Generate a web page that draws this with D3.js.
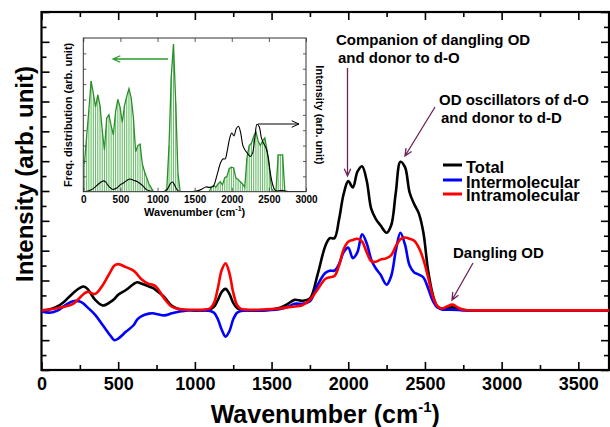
<!DOCTYPE html>
<html><head><meta charset="utf-8">
<script src="https://cdn.jsdelivr.net/npm/d3@7"></script>
<style>
body{margin:0;background:#fff}
svg{display:block}
text{font-family:"Liberation Sans",Arial,sans-serif;font-weight:bold;fill:#000}
</style>
</head><body><svg id="c" width="610" height="427"></svg>
<script>
// ---------- data ----------
const wavenumbers = [0,50,100,150,200,250,275,300,350,400,450,475,500,550,600,625,650,700,725,750,800,850,900,950,1000,1050,1100,1125,1150,1175,1200,1225,1250,1275,1300,1350,1400,1450,1500,1550,1600,1650,1700,1750,1800,1850,1880,1910,1940,1970,2000,2030,2060,2090,2120,2150,2180,2210,2250,2280,2310,2340,2370,2400,2430,2460,2490,2520,2550,2580,2610,2640,2680,2720,2760,2800,2900,3000,3200,3500,3700];
const total = [0,0.03,0.12,0.3,0.55,0.75,0.8,0.72,0.35,0.16,0.28,0.38,0.52,0.68,0.88,0.94,0.9,0.8,0.75,0.66,0.45,0.15,0.04,0.01,0,0,0.03,0.12,0.35,0.62,0.72,0.55,0.25,0.08,0.02,0,0,0,0.03,0.08,0.2,0.35,0.32,0.4,1.2,2.15,2.42,2.42,3.05,3.9,4.33,4.12,4.65,4.83,4.35,3.4,3.06,2.85,2.6,2.85,3.95,4.98,4.8,3.95,3.56,3.25,2.6,1.35,0.55,0.13,0.05,0.07,0.1,0.04,0.01,0,0,0,0,0,0];
const intermolecular = [-0.03,-0.08,-0.02,0.15,0.3,0.3,0.22,0.1,-0.15,-0.5,-0.85,-1.0,-0.95,-0.72,-0.5,-0.3,-0.2,-0.11,-0.1,-0.12,-0.17,-0.1,-0.04,0,0,0,-0.02,-0.08,-0.3,-0.65,-0.88,-0.7,-0.3,-0.08,-0.02,0,0,0,0.01,0.04,0.1,0.22,0.22,0.3,0.85,1.25,1.33,1.33,1.55,1.95,2.1,1.75,1.95,2.55,2.25,1.7,1.4,1.2,0.86,1.15,2.0,2.6,2.2,1.5,1.27,1.2,1.1,0.75,0.33,0.1,0.03,0.02,0.02,0.01,0,0,0,0,0,0,0];
const intramolecular = [0,0.03,0.07,0.12,0.2,0.42,0.55,0.62,0.55,0.85,1.3,1.5,1.55,1.45,1.33,1.2,1.05,0.88,0.86,0.78,0.4,0.12,0.04,0.02,0.02,0.02,0.07,0.25,0.75,1.35,1.58,1.25,0.6,0.18,0.05,0.02,0.02,0.03,0.04,0.06,0.1,0.13,0.17,0.35,0.7,1.05,1.11,1.15,1.5,2.05,2.3,2.36,2.4,2.3,1.95,1.65,1.63,1.7,1.75,1.85,2.15,2.38,2.44,2.4,2.33,2.1,1.7,1.12,0.5,0.15,0.06,0.12,0.19,0.08,0.01,0,0,0,0,0,0];
const seriesNames = ["Total","Intermolecular","Intramolecular"];
const seriesColors = ["#000000","#0000ff","#ff0000"];
const xTicks = [0,500,1000,1500,2000,2500,3000,3500];
const insetXTicks = [0,500,1000,1500,2000,2500,3000];
const freqBins = [15,45,75,105,135,165,195,225,255,285,315,345,375,405,435,465,495,525,555,585,615,645,675,705,735,765,795,825,855,885,915,945,975,1005,1035,1065,1095,1125,1155,1185,1215,1245,1275,1305,1335,1365,1395,1425,1455,1485,1515,1545,1575,1605,1635,1665,1695,1725,1755,1785,1815,1845,1875,1905,1935,1965,1995,2025,2055,2085,2115,2145,2175,2205,2235,2265,2295,2325,2355,2385,2415,2445,2475,2505,2535,2565,2595,2625,2655,2685,2715,2745,2775,2805,2835,2865,2895,2925,2955,2985];
const freqValues = [1.8,3.6,5.3,7.2,6.4,5.5,6.3,5.6,4.0,2.7,4.8,5.0,4.3,3.7,5.2,6.0,5.5,4.5,5.6,6.2,6.7,6.1,4.8,2.6,3.0,3.1,1.8,1.3,0.9,0.5,0.25,0,0,0,0,0,0,0.2,3.0,7.5,9.6,5.8,1.2,0,0,0,0,0,0,0,0,0,0,0,0,0,0,0.3,0.4,0.3,0.5,0.65,0.45,0.9,1.0,1.5,1.6,1.55,0.9,0.8,0.65,0.5,0.3,2.2,3.0,3.15,3.6,3.9,3.3,3.0,3.3,3.5,2.7,1.6,0.2,0,0,2.4,2.4,2.4,0,0,0,0,0,0,0,0,0,0];
const annotationTexts = [["Companion of dangling OD","and donor to d-O"],["OD oscillators of d-O","and donor to d-D"],["Dangling OD"]];

// ---------- layout ----------
const svg = d3.select("#c");
const M = {l:41.5, r:609, t:12, b:370};
const x = d3.scaleLinear().domain([0,3700]).range([M.l, M.r]);
const y = d3.scaleLinear().domain([-2,10]).range([M.b, M.t]);
const fmt = d3.format("d");

const g = svg.append("g");
function styleAxis(sel){ sel.select(".domain").remove(); sel.selectAll("line").attr("stroke","#000").attr("stroke-width",1.6); sel.selectAll("text").attr("fill","#000").style("font-size","18px").attr("font-weight","bold"); }
const minorX = d3.range(250,3700,500);
g.append("g").attr("transform",`translate(0,${M.b})`).call(d3.axisBottom(x).tickValues(xTicks).tickFormat(fmt).tickSize(-8).tickPadding(7)).call(styleAxis);
g.append("g").attr("transform",`translate(0,${M.b})`).call(d3.axisBottom(x).tickValues(minorX).tickSize(-5).tickFormat("")).call(styleAxis);
g.append("g").attr("transform",`translate(0,${M.t})`).call(d3.axisTop(x).tickValues(xTicks).tickSize(-8).tickFormat("")).call(styleAxis);
g.append("g").attr("transform",`translate(0,${M.t})`).call(d3.axisTop(x).tickValues(minorX).tickSize(-5).tickFormat("")).call(styleAxis);
const majorY = d3.range(-2,10.01,1), minorY = d3.range(-1.5,10,1);
g.append("g").attr("transform",`translate(${M.l},0)`).call(d3.axisLeft(y).tickValues(majorY).tickSize(-8).tickFormat("")).call(styleAxis);
g.append("g").attr("transform",`translate(${M.l},0)`).call(d3.axisLeft(y).tickValues(minorY).tickSize(-5).tickFormat("")).call(styleAxis);
g.append("g").attr("transform",`translate(${M.r},0)`).call(d3.axisRight(y).tickValues(majorY).tickSize(-8).tickFormat("")).call(styleAxis);
g.append("g").attr("transform",`translate(${M.r},0)`).call(d3.axisRight(y).tickValues(minorY).tickSize(-5).tickFormat("")).call(styleAxis);
g.append("rect").attr("x",M.l).attr("y",M.t).attr("width",M.r-M.l).attr("height",M.b-M.t).attr("fill","none").attr("stroke","#000").attr("stroke-width",2.2);

// curves
svg.append("clipPath").attr("id","pc").append("rect").attr("x",M.l).attr("y",M.t).attr("width",M.r-M.l).attr("height",M.b-M.t);
const series = [total, intermolecular, intramolecular];
const line = d3.line().curve(d3.curveCatmullRom.alpha(0.5)).x(d=>x(d[0])).y(d=>y(d[1]));
series.forEach((s,i)=>{
  svg.append("path").attr("clip-path","url(#pc)").attr("d", line(wavenumbers.map((w,j)=>[w,s[j]])))
    .attr("fill","none").attr("stroke",seriesColors[i]).attr("stroke-width",2.6).attr("stroke-linejoin","round");
});

// axis titles
svg.append("text").attr("x",(M.l+M.r)/2).attr("y",423).attr("text-anchor","middle").style("font-size","25px")
  .text("Wavenumber (cm").append("tspan").attr("dy",-11).style("font-size","15px").text("-1")
  .select(function(){return this.parentNode;}).append("tspan").attr("dy",11).style("font-size","25px").text(")");
svg.append("text").attr("transform","translate(33,174) rotate(-90)").attr("text-anchor","middle").style("font-size","24px").text("Intensity (arb. unit)");

// legend
seriesNames.forEach((n,i)=>{
  const ly = [165,180,194][i];
  svg.append("line").attr("x1",443).attr("x2",462).attr("y1",ly).attr("y2",ly).attr("stroke",seriesColors[i]).attr("stroke-width",3);
  svg.append("text").attr("x",466).attr("y",[173,187.5,201][i]).style("font-size","16.5px").text(n);
});

// annotations
const purple = "#6b2358";
function arrow(x1,y1,x2,y2,col,sw){
  const a = Math.atan2(y2-y1,x2-x1), L=8, h=0.42;
  const p = `M${x1},${y1}L${x2},${y2}M${x2-L*Math.cos(a-h)},${y2-L*Math.sin(a-h)}L${x2},${y2}L${x2-L*Math.cos(a+h)},${y2-L*Math.sin(a+h)}`;
  svg.append("path").attr("d",p).attr("fill","none").attr("stroke",col).attr("stroke-width",sw||1.3);
}
const annPos = [[336,45,18],[439,105,18],[453,258,18]];
annotationTexts.forEach((lines,i)=>{
  lines.forEach((t,k)=>svg.append("text").attr("x",annPos[i][0]+(k?2:0)).attr("y",annPos[i][1]+k*annPos[i][2]).style("font-size","15px").text(t));
});
arrow(347.5,68,347.5,176,purple);
arrow(435,107,405,156,purple);
arrow(473,263,452,300,purple);

// ---------- inset ----------
const I = {l:83.3, r:306, t:38, b:191.7};
const ix = d3.scaleLinear().domain([0,3000]).range([I.l,I.r]);
const iy = d3.scaleLinear().domain([0,10]).range([I.b,I.t]);
const iy2 = d3.scaleLinear().domain([0,11.35]).range([I.b,I.t]);
const ig = svg.append("g");
ig.append("rect").attr("x",I.l).attr("y",I.t).attr("width",I.r-I.l).attr("height",I.b-I.t).attr("fill","#fff");
svg.append("clipPath").attr("id","ic").append("rect").attr("x",I.l).attr("y",I.t).attr("width",I.r-I.l).attr("height",I.b-I.t);
const bw = ix(30)-ix(0);
ig.append("g").attr("clip-path","url(#ic)").selectAll("rect").data(freqBins.map((b,i)=>[b,freqValues[i]])).join("rect")
  .attr("x",d=>ix(d[0])-bw*0.25).attr("width",bw*0.5).attr("y",d=>iy(d[1])).attr("height",d=>I.b-iy(d[1])).attr("fill","#6cbf6c");
ig.append("path").attr("clip-path","url(#ic)").attr("d",d3.line().x(d=>ix(d[0])).y(d=>iy(d[1]))(freqBins.map((b,i)=>[b,freqValues[i]])))
  .attr("fill","none").attr("stroke","#2a8f2a").attr("stroke-width",1.3);
ig.append("path").attr("clip-path","url(#ic)").attr("d",d3.line().curve(d3.curveCatmullRom.alpha(0.5)).x(d=>ix(d[0])).y(d=>iy2(d[1]))(wavenumbers.map((w,j)=>[w,total[j]])))
  .attr("fill","none").attr("stroke","#000").attr("stroke-width",1.1);
function styleI(sel){ sel.select(".domain").remove(); sel.selectAll("line").attr("stroke","#333").attr("stroke-width",0.8); sel.selectAll("text").attr("fill","#000").style("font-size","10px").attr("font-weight","bold"); }
ig.append("g").attr("transform",`translate(0,${I.b})`).call(d3.axisBottom(ix).tickValues(insetXTicks).tickFormat(fmt).tickSize(-4).tickPadding(4)).call(styleI);
ig.append("g").attr("transform",`translate(0,${I.t})`).call(d3.axisTop(ix).tickValues(insetXTicks).tickSize(-4).tickFormat("")).call(styleI);
const iyt = d3.range(1,10,1);
ig.append("g").attr("transform",`translate(${I.l},0)`).call(d3.axisLeft(iy).tickValues(iyt).tickSize(-3).tickFormat("")).call(styleI);
ig.append("g").attr("transform",`translate(${I.r},0)`).call(d3.axisRight(iy).tickValues(iyt).tickSize(-3).tickFormat("")).call(styleI);
ig.append("rect").attr("x",I.l).attr("y",I.t).attr("width",I.r-I.l).attr("height",I.b-I.t).attr("fill","none").attr("stroke","#333").attr("stroke-width",1);
ig.append("text").attr("x",(I.l+I.r)/2).attr("y",216).attr("text-anchor","middle").style("font-size","11px")
  .text("Wavenumber (cm").append("tspan").attr("dy",-5).style("font-size","7px").text("-1")
  .select(function(){return this.parentNode;}).append("tspan").attr("dy",5).style("font-size","11px").text(")");
ig.append("text").attr("transform",`translate(72,${(I.t+I.b)/2}) rotate(-90)`).attr("text-anchor","middle").style("font-size","11px").text("Freq. distribution (arb. unit)");
ig.append("text").attr("transform",`translate(316,${(I.t+I.b)/2}) rotate(90)`).attr("text-anchor","middle").style("font-size","11px").text("Intensity (arb. unit)");
arrow(168,59,113,59,"#2a9a2a",1.3);
arrow(258,124,299,124,"#000",1);
</script>
</body></html>
